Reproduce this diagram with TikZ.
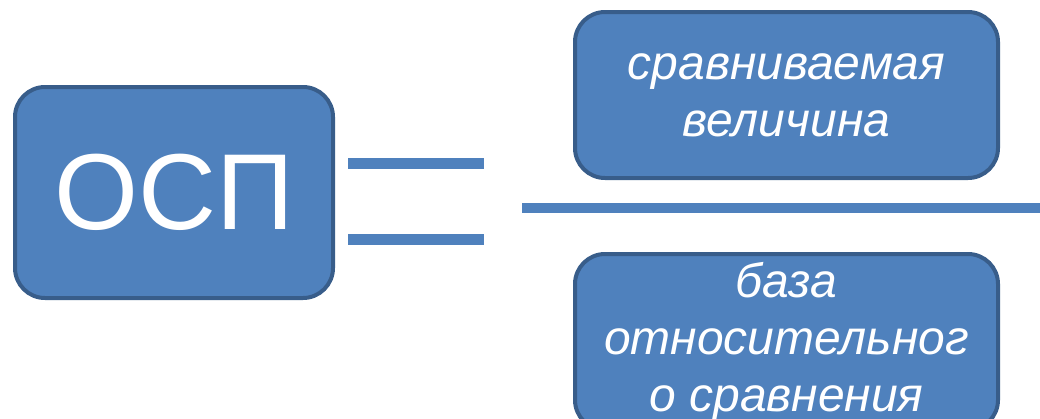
\documentclass[tikz,border=0pt]{standalone}
\usepackage{fontspec}
\setmainfont{Liberation Sans}
\definecolor{boxfill}{HTML}{4F81BD}
\definecolor{boxline}{HTML}{385D8A}
\tikzset{
  box/.style={draw=boxline, fill=boxfill, line width=4pt, rounded corners=30pt,
    inner sep=0pt, text=white, align=center},
  bar/.style={draw=boxfill, line width=11pt, line cap=butt},
  small/.style={font=\fontsize{48}{57}\selectfont\itshape}
}
\begin{document}
\begin{tikzpicture}[x=1pt,y=1pt]
\useasboundingbox (0,0) rectangle (1040,-418);
\clip (0,0) rectangle (1040,-418);
\node[box, minimum width=318pt, minimum height=211pt, font=\fontsize{108}{120}\selectfont] (osp) at (174,-192.5) {ОСП};
\node[box, small, minimum width=423pt, minimum height=166pt] (num) at (786.5,-95) {сравниваемая\\величина};
\node[box, small, minimum width=423pt, minimum height=176pt] (den) at (786.5,-342) {база\\относительног\\о сравнения};
\coordinate (e1a) at (348,-163);
\coordinate (e1b) at (484,-163);
\coordinate (e2a) at (348,-239);
\coordinate (e2b) at (484,-239);
\coordinate (fa) at (522,-208);
\coordinate (fb) at (1040,-208);
\draw[bar] (e1a) -- (e1b);
\draw[bar] (e2a) -- (e2b);
\draw[bar, line width=10pt] (fa) -- (fb);
\end{tikzpicture}
\end{document}
